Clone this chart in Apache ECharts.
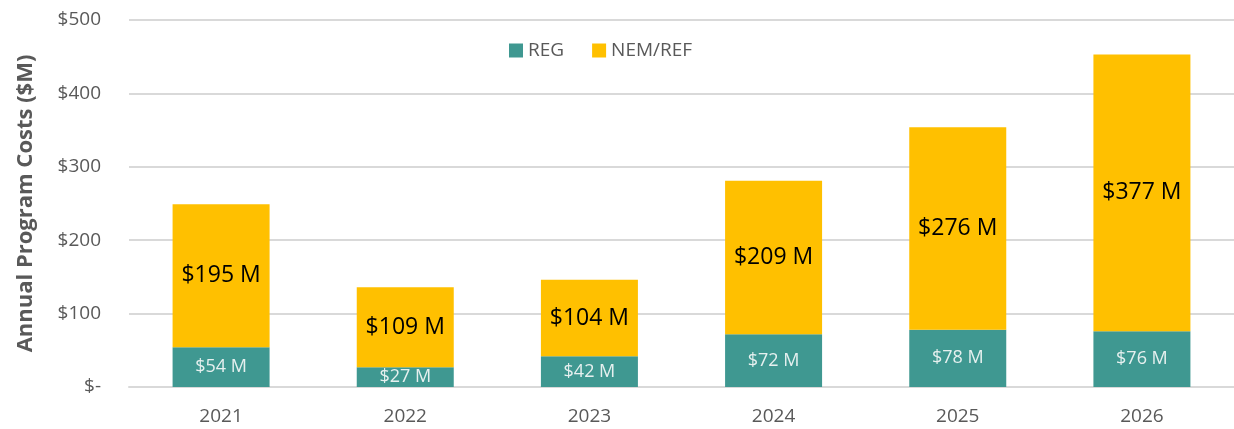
<!DOCTYPE html>
<html>
<head>
<meta charset="utf-8">
<script src="https://cdn.jsdelivr.net/npm/echarts@6/dist/echarts.min.js"></script>
<style>
  html, body { margin: 0; padding: 0; background: #fff; }
  #chart { width: 1234px; height: 429px; }
</style>
</head>
<body>
<div id="chart"></div>
<script>
const years = ['2021', '2022', '2023', '2024', '2025', '2026'];
const regCosts = [54, 27, 42, 72, 78, 76];
const nemRefCosts = [195, 109, 104, 209, 276, 377];
const yTicks = [0, 100, 200, 300, 400, 500];

const FONT = '"Open Sans", "Liberation Sans", sans-serif';
const chart = echarts.init(document.getElementById('chart'));

chart.setOption({
  animation: false,
  textStyle: { fontFamily: FONT },
  legend: {
    top: 36,
    left: 504,
    itemWidth: 14,
    itemHeight: 14,
    itemGap: 28,
    icon: 'rect',
    textStyle: { fontSize: 19, color: '#595959', fontFamily: FONT },
    data: ['REG', 'NEM/REF']
  },
  grid: { left: 129, width: 1111, top: 20, bottom: 42 },
  xAxis: {
    type: 'category',
    data: years,
    axisTick: { show: false },
    axisLine: { lineStyle: { color: '#d9d9d9', width: 2 } },
    axisLabel: { fontSize: 19, color: '#595959', margin: 20, fontFamily: FONT }
  },
  yAxis: {
    type: 'value',
    min: yTicks[0],
    max: yTicks[yTicks.length - 1],
    interval: 100,
    name: 'Annual Program Costs ($M)',
    nameLocation: 'middle',
    nameRotate: 90,
    nameGap: 92,
    nameTextStyle: { fontSize: 22, fontWeight: 'bold', color: '#595959', fontFamily: FONT },
    axisLabel: {
      fontSize: 19, color: '#595959', margin: 28, fontFamily: FONT,
      formatter: v => v === 0 ? '$-' : '$' + v
    },
    splitLine: { lineStyle: { color: '#d9d9d9', width: 2 } }
  },
  series: [
    {
      name: 'REG',
      type: 'bar',
      stack: 'total',
      barWidth: 97,
      data: regCosts,
      itemStyle: { color: '#3F9891' },
      label: {
        show: true,
        position: 'inside',
        formatter: p => '$' + p.value + ' M',
        color: '#e6f0ef',
        fontSize: 18,
        fontFamily: FONT
      }
    },
    {
      name: 'NEM/REF',
      type: 'bar',
      stack: 'total',
      barWidth: 97,
      data: nemRefCosts,
      itemStyle: { color: '#FFC000' },
      label: {
        show: true,
        position: 'inside',
        formatter: p => '$' + p.value + ' M',
        color: '#000',
        fontSize: 23,
        fontFamily: FONT
      }
    }
  ]
});
</script>
</body>
</html>
